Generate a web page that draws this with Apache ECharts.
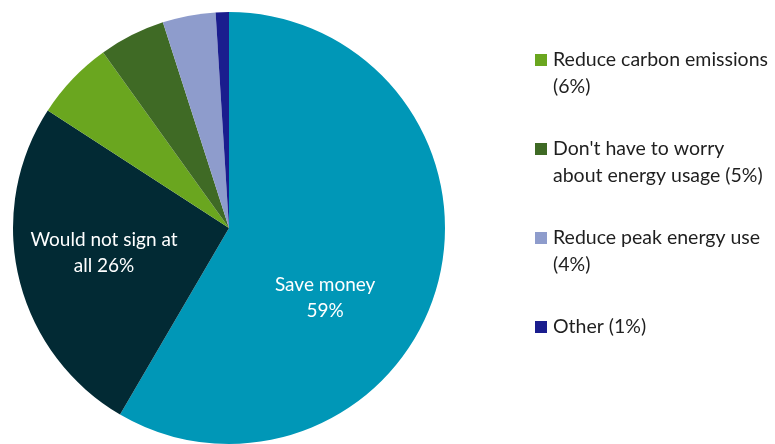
<!DOCTYPE html>
<html>
<head>
<meta charset="utf-8">
<script src="https://cdn.jsdelivr.net/npm/echarts@6/dist/echarts.min.js"></script>
<style>
  html, body { margin: 0; padding: 0; background: #ffffff; }
  #chart { width: 775px; height: 444px; }
</style>
</head>
<body>
<div id="chart"></div>
<script>
// Reasons given for signing up (percent of respondents)
const categories = [
  'Save money',
  'Would not sign at all',
  'Reduce carbon emissions',
  "Don't have to worry about energy usage",
  'Reduce peak energy use',
  'Other'
];
const values = [59, 26, 6, 5, 4, 1];
const colors = ['#0097b7', '#022a34', '#6aa61f', '#3f6a25', '#8e9ccc', '#1a1d8e'];

// Text shown inside the two large slices
const sliceLabelText = {
  'Save money': 'Save money\n{v}%',
  'Would not sign at all': 'Would not sign at\nall {v}%'
};
// Legend wording, split over lines as displayed
const legendLines = {
  'Reduce carbon emissions': ['Reduce carbon emissions', '({v}%)'],
  "Don't have to worry about energy usage": ["Don't have to worry", 'about energy usage ({v}%)'],
  'Reduce peak energy use': ['Reduce peak energy use', '({v}%)'],
  'Other': ['Other ({v}%)']
};
const legendItems = categories.slice(2);

const FONT = 'Lato, "Open Sans", sans-serif';

const labelOffsets = {
  'Save money': [-11, 41],
  'Would not sign at all': [-17, -1]
};

const pieData = categories.map((name, i) => {
  const item = { name, value: values[i], itemStyle: { color: colors[i] } };
  if (sliceLabelText[name]) {
    item.label = {
      show: true,
      position: 'inside',
      offset: labelOffsets[name],
      formatter: p => sliceLabelText[p.name].replace('{v}', p.value),
      color: '#ffffff',
      fontFamily: FONT,
      fontSize: 19,
      lineHeight: 26
    };
  } else {
    item.label = { show: false };
  }
  return item;
});

const rich = {
  t: { fontFamily: FONT, fontSize: 19.5, lineHeight: 27, color: '#1f1f1f' },
  gap: { width: 6 },
  pad: { width: 18 }
};
categories.forEach((c, i) => {
  rich['sq' + i] = { width: 12, height: 12, backgroundColor: colors[i] };
});

const chart = echarts.init(document.getElementById('chart'), null, { renderer: 'canvas' });
chart.setOption({
  animation: false,
  legend: {
    orient: 'vertical',
    left: 530,
    top: 50,
    padding: 0,
    itemGap: 42,
    itemWidth: 0,
    itemHeight: 0,
    selectedMode: false,
    data: legendItems,
    formatter: name => {
      const i = categories.indexOf(name);
      const lines = legendLines[name].map(s => s.replace('{v}', values[i]));
      return lines.map((s, k) =>
        (k === 0 ? '{sq' + i + '|}{gap|}' : '{pad|}') + '{t|' + s + '}'
      ).join('\n');
    },
    textStyle: { rich }
  },
  series: [{
    type: 'pie',
    center: [229, 228],
    radius: [0, 216],
    startAngle: 90,
    clockwise: true,
    avoidLabelOverlap: false,
    labelLine: { show: false },
    itemStyle: { borderWidth: 0 },
    emphasis: { disabled: true },
    data: pieData
  }]
});
</script>
</body>
</html>
